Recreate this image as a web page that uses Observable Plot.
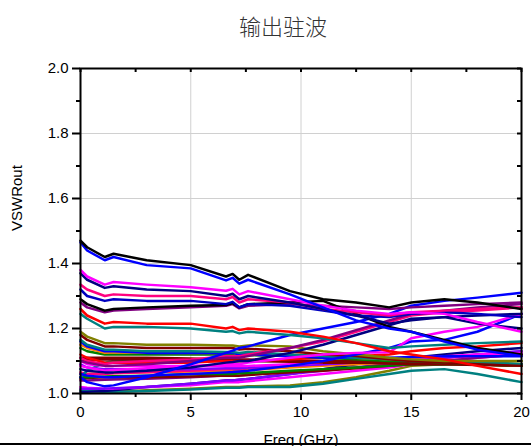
<!DOCTYPE html>
<html><head><meta charset="utf-8">
<script src="https://cdn.jsdelivr.net/npm/d3@7"></script>
<script src="https://cdn.jsdelivr.net/npm/@observablehq/plot@0.6"></script>
<style>
body{margin:0;background:#fff;}
#wrap{position:relative;width:531px;height:446px;overflow:hidden;font-family:"Liberation Sans",Arial,sans-serif;}
#title{position:absolute;left:183px;width:200px;top:11px;text-align:center;font-family:"Noto Sans CJK SC";font-weight:300;font-size:22px;line-height:28px;color:#333;}
#chart{position:absolute;left:0;top:0;}
#bottomline{position:absolute;left:0;top:443px;width:531px;height:2px;background:#000;}
</style></head><body>
<div id="wrap"><div id="chart"></div><div id="title">输出驻波</div><div id="bottomline"></div></div>
<script>
// Frequency sample points (GHz)
const freq = [0, 0.3, 1.1, 1.5, 3, 5, 6.6, 6.9, 7.2, 7.6, 9.5, 11, 12.5, 14, 15, 16.5, 18, 20];

// Tick values
const xTicks = [0, 5, 10, 15, 20];
const xMinor = [2.5, 7.5, 12.5, 17.5];
const yTicks = [1.0, 1.2, 1.4, 1.6, 1.8, 2.0];
const yMinor = [1.1, 1.3, 1.5, 1.7, 1.9];
const xGrid = [5, 10, 15];
const yGrid = [1.2, 1.4, 1.6, 1.8];

// Series values (VSWR out) — lower cluster
const olive   = [1.19,1.175,1.155,1.155,1.15,1.15,1.148,1.148,1.145,1.148,1.145,1.13,1.12,1.11,1.105,1.10,1.10,1.10];
const wine    = [1.18,1.165,1.145,1.145,1.14,1.14,1.14,1.14,1.135,1.138,1.13,1.12,1.115,1.105,1.10,1.095,1.09,1.085];
const teal4   = [1.165,1.15,1.135,1.135,1.13,1.13,1.128,1.128,1.125,1.128,1.12,1.115,1.11,1.105,1.10,1.10,1.095,1.09];
const blue3   = [1.16,1.145,1.13,1.13,1.125,1.125,1.125,1.125,1.12,1.12,1.115,1.11,1.11,1.11,1.112,1.115,1.115,1.115];
const orange  = [1.15,1.14,1.125,1.127,1.125,1.125,1.125,1.125,1.12,1.122,1.12,1.115,1.11,1.105,1.105,1.10,1.095,1.085];
const green   = [1.14,1.13,1.12,1.12,1.12,1.12,1.12,1.12,1.115,1.118,1.115,1.11,1.105,1.10,1.10,1.095,1.09,1.085];
const red2    = [1.12,1.11,1.095,1.095,1.095,1.095,1.10,1.10,1.10,1.10,1.105,1.11,1.115,1.12,1.13,1.14,1.145,1.155];
const wine2   = [1.11,1.11,1.11,1.11,1.11,1.108,1.105,1.105,1.105,1.105,1.10,1.10,1.10,1.098,1.095,1.095,1.09,1.09];
const wine3   = [1.10,1.103,1.105,1.105,1.105,1.105,1.10,1.10,1.10,1.10,1.098,1.095,1.095,1.092,1.09,1.09,1.088,1.085];
const magenta3= [1.10,1.09,1.085,1.085,1.085,1.085,1.085,1.085,1.085,1.085,1.09,1.095,1.10,1.105,1.11,1.115,1.12,1.125];
const violet  = [1.09,1.08,1.075,1.075,1.075,1.075,1.078,1.078,1.078,1.08,1.085,1.09,1.095,1.10,1.105,1.11,1.12,1.13];
const teal2   = [1.05,1.07,1.095,1.10,1.10,1.10,1.10,1.10,1.10,1.10,1.10,1.10,1.10,1.10,1.10,1.10,1.095,1.09];
const pink3   = [1.065,1.06,1.06,1.062,1.065,1.07,1.075,1.075,1.075,1.078,1.085,1.09,1.095,1.10,1.105,1.11,1.115,1.12];
const orange2 = [1.06,1.06,1.062,1.063,1.065,1.068,1.07,1.07,1.07,1.072,1.08,1.085,1.09,1.095,1.095,1.095,1.09,1.085];
const green2  = [1.05,1.05,1.052,1.053,1.055,1.06,1.06,1.06,1.062,1.063,1.07,1.075,1.08,1.085,1.09,1.09,1.09,1.085];
const wine4   = [1.045,1.048,1.05,1.05,1.05,1.052,1.055,1.055,1.055,1.057,1.065,1.07,1.078,1.085,1.09,1.09,1.09,1.09];
const purple3 = [1.04,1.04,1.042,1.043,1.045,1.05,1.055,1.055,1.055,1.058,1.065,1.075,1.08,1.09,1.095,1.10,1.11,1.12];
const violet2 = [1.015,1.015,1.015,1.016,1.02,1.03,1.04,1.04,1.042,1.045,1.06,1.07,1.08,1.09,1.10,1.11,1.12,1.13];
const magenta4= [1.02,1.018,1.015,1.015,1.02,1.025,1.035,1.035,1.035,1.038,1.05,1.06,1.07,1.08,1.09,1.10,1.11,1.12];
const navy3   = [1.005,1.005,1.008,1.01,1.02,1.03,1.04,1.04,1.042,1.045,1.06,1.075,1.09,1.10,1.11,1.12,1.13,1.14];
const olive2  = [1.01,1.01,1.005,1.005,1.01,1.015,1.02,1.02,1.02,1.022,1.025,1.035,1.05,1.07,1.085,1.09,1.095,1.10];
const teal3   = [1.01,1.008,1.005,1.005,1.008,1.012,1.018,1.018,1.018,1.02,1.02,1.03,1.045,1.06,1.07,1.075,1.06,1.035];

// Rising group
const blue5   = [1.06,1.055,1.05,1.05,1.055,1.06,1.065,1.066,1.068,1.07,1.085,1.10,1.12,1.14,1.16,1.165,1.19,1.245];
const magenta2= [1.085,1.08,1.07,1.072,1.078,1.085,1.09,1.09,1.09,1.095,1.11,1.12,1.125,1.127,1.17,1.19,1.205,1.245];
const navy2   = [1.075,1.07,1.065,1.065,1.07,1.08,1.095,1.097,1.10,1.10,1.125,1.15,1.18,1.21,1.23,1.235,1.24,1.245];
const pink2   = [1.11,1.10,1.09,1.095,1.10,1.105,1.115,1.115,1.115,1.12,1.14,1.16,1.19,1.22,1.24,1.25,1.255,1.265];
const purple2 = [1.10,1.095,1.085,1.085,1.09,1.10,1.11,1.11,1.11,1.115,1.14,1.165,1.195,1.225,1.245,1.255,1.265,1.275];
const blueR   = [1.05,1.035,1.022,1.025,1.05,1.09,1.125,1.132,1.14,1.145,1.18,1.20,1.22,1.245,1.27,1.285,1.295,1.31];

// Upper group
const teal    = [1.245,1.23,1.20,1.205,1.205,1.20,1.19,1.192,1.185,1.19,1.18,1.17,1.155,1.14,1.145,1.15,1.155,1.16];
const red     = [1.26,1.24,1.215,1.22,1.215,1.215,1.20,1.205,1.195,1.20,1.19,1.175,1.155,1.13,1.12,1.105,1.085,1.06];
const purple  = [1.28,1.265,1.25,1.255,1.26,1.265,1.27,1.275,1.262,1.27,1.275,1.27,1.265,1.26,1.265,1.27,1.275,1.28];
const black2  = [1.29,1.275,1.255,1.26,1.265,1.27,1.272,1.278,1.265,1.275,1.28,1.285,1.245,1.205,1.19,1.165,1.14,1.12];
const royal   = [1.32,1.30,1.285,1.29,1.285,1.285,1.275,1.282,1.265,1.275,1.27,1.255,1.24,1.235,1.245,1.25,1.245,1.235];
const pink    = [1.335,1.32,1.30,1.305,1.30,1.30,1.29,1.297,1.28,1.29,1.28,1.26,1.25,1.24,1.25,1.255,1.26,1.265];
const navy    = [1.37,1.35,1.325,1.33,1.32,1.315,1.30,1.307,1.29,1.30,1.28,1.26,1.24,1.215,1.225,1.235,1.215,1.20];
const magenta = [1.38,1.36,1.335,1.343,1.335,1.327,1.316,1.322,1.305,1.315,1.29,1.27,1.255,1.245,1.25,1.245,1.22,1.19];
const blueB   = [1.465,1.44,1.41,1.42,1.395,1.385,1.348,1.356,1.338,1.35,1.305,1.265,1.225,1.20,1.19,1.16,1.135,1.115];
const blackA  = [1.47,1.45,1.42,1.43,1.41,1.395,1.36,1.368,1.35,1.365,1.315,1.29,1.28,1.265,1.28,1.29,1.28,1.26];

// Series in drawing order, with their line colours
const seriesList = [
  [olive2,"#808000"],[teal3,"#008080"],[navy3,"#000080"],[magenta4,"#FF00FF"],[violet2,"#8000FF"],
  [purple3,"#800080"],[wine4,"#800000"],[green2,"#008000"],[orange2,"#FF8000"],[pink3,"#FF0080"],
  [teal2,"#008080"],[violet,"#8000FF"],[magenta3,"#FF00FF"],[wine3,"#800000"],[wine2,"#800000"],
  [red2,"#FF0000"],[green,"#008000"],[orange,"#FF8000"],[blue3,"#0000FF"],[teal4,"#008080"],
  [wine,"#800000"],[olive,"#808000"],
  [blue5,"#0000FF"],[magenta2,"#FF00FF"],[navy2,"#000080"],[pink2,"#FF0080"],[purple2,"#800080"],[blueR,"#0000FF"],
  [teal,"#008080"],[red,"#FF0000"],[purple,"#800080"],[black2,"#000000"],[royal,"#0000C0"],[pink,"#FF0080"],
  [navy,"#000080"],[magenta,"#FF00FF"],[blueB,"#0000FF"],[blackA,"#000000"]
];

const W = 531, H = 446, mL = 80, mR = 10, mT = 68, mB = 53;
const FW = W - mL - mR, FH = H - mT - mB;

const lineMarks = seriesList.map(([vals, color]) =>
  Plot.line(freq.map((f, i) => ({f, v: vals[i]})), {x: "f", y: "v", stroke: color, strokeWidth: 2.5, strokeLinejoin: "round"})
);

const chart = Plot.plot({
  width: W, height: H, marginLeft: mL, marginRight: mR, marginTop: mT, marginBottom: mB,
  style: {fontFamily: "Liberation Sans, Arial, sans-serif", fontSize: "15px", color: "#000", background: "transparent", overflow: "visible"},
  x: {domain: [0, 20], ticks: xTicks, tickSize: 0, tickPadding: 13, label: null},
  y: {domain: [1, 2], ticks: yTicks, tickSize: 0, tickPadding: 12, tickFormat: d3.format(".1f"), label: null},
  marks: [
    Plot.ruleX(xGrid, {stroke: "#d0d0d0", strokeWidth: 1}),
    Plot.ruleY(yGrid, {stroke: "#d0d0d0", strokeWidth: 1}),
    ...lineMarks,
    Plot.frame({stroke: "#000", strokeWidth: 2}),
    Plot.ruleX(xTicks, {insetTop: FH, insetBottom: -7, strokeWidth: 2}),
    Plot.ruleX(xMinor, {insetTop: FH, insetBottom: -4, strokeWidth: 2}),
    Plot.ruleY(yTicks, {insetRight: FW, insetLeft: -8, strokeWidth: 2}),
    Plot.ruleY(yMinor, {insetRight: FW, insetLeft: -4, strokeWidth: 2}),
    Plot.ruleX(xTicks.concat(xMinor), {insetBottom: FH - 4, strokeWidth: 2}),
    Plot.ruleY(yTicks.concat(yMinor), {insetLeft: FW - 4, strokeWidth: 2}),
    Plot.text(["Freq (GHz)"], {frameAnchor: "bottom", dy: 51, lineAnchor: "bottom", fontSize: 15, fill: "#000"}),
    Plot.text(["VSWRout"], {frameAnchor: "left", dx: -63, rotate: -90, fontSize: 15, fill: "#000"})
  ]
});
document.getElementById("chart").appendChild(chart);
</script>
</body></html>
